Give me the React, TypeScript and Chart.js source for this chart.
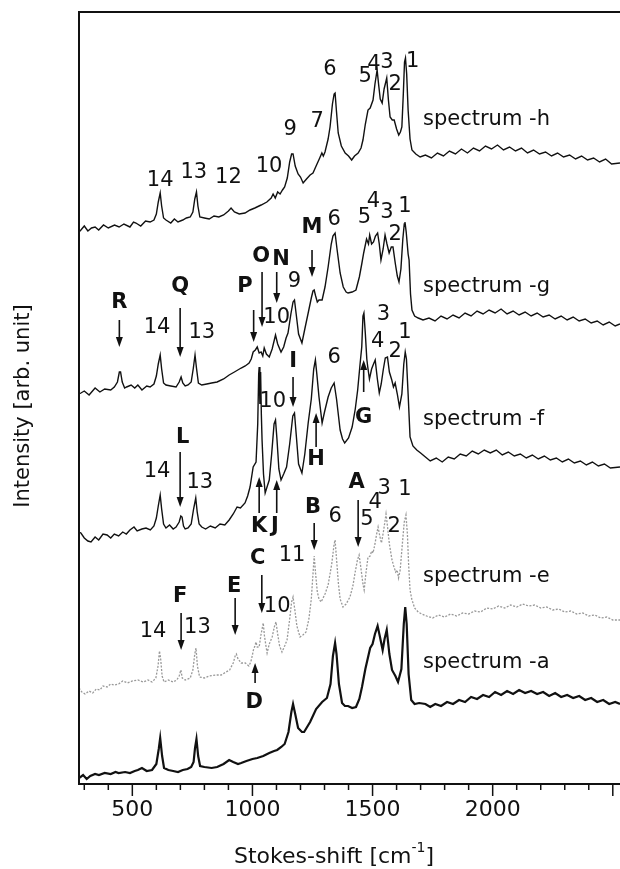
import React, { useEffect, useRef } from "react";
import { Chart, registerables } from "chart.js";

Chart.register(...registerables);

const X_MIN = 278;
const X_MAX = 2530;
const Y_MIN = 0;
const Y_MAX = 772;

const xTickValues = [500, 1000, 1500, 2000];
const minorTickValues = [300, 400, 500, 600, 700, 800, 900, 1000, 1100, 1200, 1300, 1400, 1500, 1600, 1700, 1800, 1900, 2000, 2100, 2200, 2300, 2400, 2500];

// Stokes-shift [cm-1], intensity [arb. unit] (offset spectra)
const spectrumA: [number, number][] = [
  [278,6],[295,9],[310,5],[325,8],[345,10],[361,9],[385,11],[410,10],[430,12],[443,11],[470,12],[490,11],[510,13],[523,14],[540,16],[560,13],[582,14],[600,20],[610,35],[616,46],[624,28],[632,16],[650,14],[670,13],[690,12],[710,14],[730,15],[745,17],[755,22],[761,36],[767,45],[774,28],[782,18],[800,17],[830,16],[853,17],[880,20],[903,24],[920,22],[940,20],[953,21],[975,23],[1000,25],[1020,26],[1045,28],[1070,31],[1090,33],[1103,34],[1120,37],[1134,40],[1150,52],[1162,72],[1169,80],[1178,70],[1190,56],[1206,52],[1215,52],[1240,62],[1265,75],[1290,82],[1310,86],[1325,100],[1335,128],[1344,141],[1350,130],[1360,100],[1373,81],[1385,78],[1398,78],[1415,76],[1431,77],[1445,85],[1456,97],[1470,115],[1490,136],[1500,140],[1510,150],[1521,158],[1530,148],[1542,134],[1550,145],[1559,154],[1570,130],[1581,114],[1595,108],[1606,102],[1620,115],[1630,160],[1636,177],[1642,160],[1650,110],[1661,84],[1675,80],[1694,81],
  [1720,80],[1740,77],[1761,80],[1785,78],[1810,82],[1835,80],[1860,84],[1885,82],[1910,87],[1935,85],[1960,89],[1985,87],[2010,92],[2035,89],[2060,93],[2085,90],[2110,94],[2135,91],[2160,93],[2185,90],[2210,92],[2235,88],[2260,91],[2285,87],[2310,89],[2335,86],[2360,88],[2385,84],[2410,86],[2435,82],[2460,84],[2485,80],[2510,82],[2530,80]
];

const spectrumE: [number, number][] = [
  [278,96],[290,92],[303,90],[320,93],[335,91],[350,95],[365,94],[378,98],[395,97],[410,100],[425,99],[443,100],[460,103],[480,101],[500,103],[523,104],[545,102],[565,104],[582,102],[598,106],[607,118],[613,133],[618,125],[624,108],[632,102],[650,104],[670,102],[685,104],[695,108],[702,114],[708,106],[720,104],[741,106],[752,114],[760,130],[765,136],[771,118],[780,107],[800,106],[820,108],[850,109],[870,109],[890,112],[905,114],[920,121],[928,128],[933,130],[940,125],[953,121],[970,121],[985,118],[993,122],[999,128],[1004,134],[1010,138],[1015,142],[1020,137],[1028,137],[1036,150],[1041,156],[1045,161],[1050,148],[1055,140],[1061,131],[1070,140],[1082,147],[1092,158],[1098,162],[1105,150],[1113,138],[1123,132],[1134,138],[1144,144],[1155,165],[1163,182],[1169,187],[1176,175],[1185,158],[1198,147],[1210,149],[1223,152],[1235,165],[1245,185],[1252,210],[1257,228],[1263,210],[1270,192],[1277,185],[1286,182],[1302,190],[1315,199],[1330,220],[1340,240],[1344,244],[1350,225],[1358,200],[1365,185],[1377,177],[1390,180],[1406,187],[1418,198],[1427,211],[1437,224],[1444,229],[1452,215],[1460,200],[1465,194],[1472,210],[1481,227],[1490,228],[1496,233],[1502,231],[1510,240],[1517,250],[1523,257],[1530,248],[1537,241],[1545,252],[1550,260],[1556,270],[1562,258],[1570,240],[1581,224],[1588,218],[1596,212],[1602,214],[1608,206],[1615,214],[1624,240],[1632,262],[1639,269],[1645,250],[1650,220],[1656,194],[1663,185],[1675,176],[1690,172],[1705,170],
  [1725,168],[1750,166],[1775,169],[1800,167],[1825,170],[1850,168],[1875,171],[1900,170],[1925,173],[1950,172],[1975,176],[2000,175],[2025,178],[2050,176],[2075,179],[2100,177],[2125,180],[2150,178],[2175,179],[2200,176],[2225,177],[2250,174],[2275,175],[2300,172],[2325,173],[2350,170],[2375,171],[2400,168],[2425,169],[2450,166],[2475,167],[2500,164],[2530,164]
];

const spectrumF: [number, number][] = [
  [278,252],[286,251],[300,246],[315,243],[328,242],[345,247],[360,244],[378,250],[395,249],[410,246],[425,250],[443,248],[460,252],[475,250],[490,254],[507,257],[520,253],[540,255],[557,256],[575,254],[590,258],[600,266],[608,278],[616,289],[622,275],[630,260],[640,256],[655,259],[670,255],[682,257],[695,262],[702,268],[707,267],[713,258],[720,255],[732,256],[745,260],[755,275],[764,286],[770,272],[778,260],[789,257],[805,255],[825,258],[845,256],[865,260],[885,259],[903,264],[920,270],[936,277],[950,276],[969,281],[980,288],[990,297],[1003,317],[1015,322],[1022,360],[1026,410],[1028,417],[1031,380],[1034,412],[1037,370],[1040,344],[1046,310],[1053,291],[1062,298],[1070,304],[1080,330],[1090,360],[1096,364],[1102,345],[1110,315],[1119,304],[1130,310],[1142,317],[1155,340],[1168,368],[1175,371],[1182,350],[1192,320],[1206,311],[1218,330],[1232,361],[1245,385],[1255,415],[1262,424],[1268,410],[1277,387],[1290,361],[1300,372],[1315,387],[1328,396],[1340,401],[1350,385],[1365,354],[1375,345],[1384,341],[1400,346],[1415,357],[1428,375],[1438,394],[1448,420],[1455,437],[1460,468],[1464,471],[1470,450],[1476,425],[1480,417],[1487,405],[1496,415],[1504,420],[1511,424],[1520,405],[1528,391],[1536,400],[1545,415],[1553,426],[1562,427],[1570,412],[1580,404],[1587,397],[1594,401],[1603,390],[1612,377],[1622,390],[1630,420],[1636,432],[1641,425],[1648,390],[1656,347],[1668,338],[1684,334],[1700,331],
  [1715,328],[1740,323],[1765,326],[1790,322],[1815,327],[1840,325],[1865,330],[1890,328],[1915,333],[1940,330],[1965,334],[1990,331],[2015,334],[2040,329],[2065,332],[2090,328],[2115,330],[2140,326],[2165,329],[2190,325],[2215,328],[2240,324],[2265,326],[2290,322],[2315,325],[2340,321],[2365,323],[2390,319],[2415,322],[2440,318],[2465,320],[2490,316],[2530,317]
];

const spectrumG: [number, number][] = [
  [278,390],[286,391],[300,393],[320,389],[345,396],[365,392],[385,395],[410,394],[425,397],[438,402],[446,412],[451,412],[458,402],[468,396],[476,397],[495,399],[510,396],[523,399],[540,394],[560,398],[574,397],[590,400],[600,408],[608,420],[616,429],[622,415],[630,401],[640,399],[660,398],[682,397],[695,402],[703,407],[710,401],[720,398],[732,399],[745,402],[754,416],[761,429],[767,416],[775,401],[789,399],[810,400],[830,401],[853,402],[880,405],[903,409],[925,412],[953,416],[970,418],[986,421],[995,425],[1003,432],[1012,434],[1020,437],[1028,431],[1036,432],[1043,428],[1049,436],[1058,430],[1070,427],[1082,435],[1096,449],[1105,440],[1119,432],[1130,437],[1140,446],[1148,451],[1160,470],[1169,482],[1175,484],[1182,470],[1192,450],[1206,441],[1218,455],[1232,471],[1245,486],[1252,493],[1257,494],[1263,488],[1270,482],[1277,484],[1290,484],[1302,497],[1315,517],[1328,540],[1335,548],[1344,551],[1352,535],[1365,511],[1378,497],[1390,492],[1398,491],[1415,492],[1431,494],[1445,507],[1455,520],[1463,531],[1475,545],[1483,540],[1488,549],[1496,540],[1504,542],[1512,548],[1521,551],[1528,540],[1535,524],[1544,535],[1552,549],[1560,540],[1569,531],[1578,537],[1585,537],[1595,520],[1603,508],[1610,502],[1618,515],[1626,545],[1632,560],[1635,562],[1640,552],[1648,530],[1652,524],[1658,490],[1664,474],[1675,468],[1690,466],[1710,464],
  [1735,466],[1760,463],[1785,468],[1810,465],[1835,469],[1860,466],[1885,471],[1910,468],[1935,473],[1960,470],[1985,474],[2010,471],[2035,475],[2060,470],[2085,473],[2110,469],[2135,472],[2160,468],[2185,471],[2210,467],[2235,469],[2260,465],[2285,468],[2310,464],[2335,467],[2360,463],[2385,465],[2410,461],[2435,463],[2460,459],[2485,462],[2510,458],[2530,460]
];

const spectrumH: [number, number][] = [
  [278,552],[286,554],[300,558],[315,553],[330,556],[345,557],[360,554],[380,559],[400,556],[426,559],[445,557],[465,560],[490,557],[505,562],[515,561],[535,558],[555,563],[574,562],[590,564],[600,570],[608,582],[616,591],[622,578],[630,566],[640,564],[660,561],[675,565],[690,562],[710,564],[725,566],[741,567],[752,572],[760,585],[767,592],[773,578],[781,567],[800,566],[820,565],[840,568],[860,567],[880,569],[900,573],[911,576],[925,572],[945,570],[969,571],[990,574],[1010,576],[1036,579],[1060,582],[1078,586],[1086,590],[1095,586],[1105,592],[1115,590],[1125,594],[1134,597],[1145,606],[1155,622],[1163,630],[1169,630],[1178,618],[1190,610],[1200,607],[1211,601],[1225,605],[1240,609],[1252,611],[1265,618],[1280,626],[1289,631],[1295,628],[1302,632],[1315,645],[1323,657],[1333,680],[1340,690],[1344,691],[1350,672],[1357,651],[1370,638],[1386,631],[1400,628],[1413,624],[1425,628],[1440,631],[1452,636],[1460,644],[1470,660],[1481,674],[1490,676],[1502,684],[1510,700],[1519,714],[1525,700],[1532,685],[1540,681],[1548,695],[1559,706],[1566,684],[1573,667],[1582,664],[1590,664],[1600,655],[1609,649],[1616,652],[1622,657],[1628,690],[1633,722],[1637,726],[1642,710],[1648,674],[1656,645],[1664,634],[1680,630],[1698,627],
  [1720,629],[1745,626],[1770,631],[1795,628],[1820,633],[1845,630],[1870,635],[1895,631],[1920,636],[1945,633],[1970,638],[1995,635],[2020,639],[2045,634],[2070,637],[2095,633],[2120,636],[2145,631],[2170,634],[2195,630],[2220,632],[2245,628],[2270,631],[2295,627],[2320,629],[2345,625],[2370,628],[2395,624],[2420,626],[2445,622],[2470,625],[2495,620],[2530,621]
];

// peak labels: [text, x (cm-1), y (arb.), bold]
const labelsH: [string, number, number, boolean][] = [
  ["14", 616, 603, false], ["13", 756, 611, false], ["12", 900, 606, false], ["10", 1069, 617, false],
  ["9", 1157, 654, false], ["7", 1269, 662, false], ["6", 1323, 714, false], ["5", 1469, 707, false],
  ["4", 1506, 719, false], ["3", 1560, 721, false], ["2", 1594, 699, false], ["1", 1667, 722, false]
];
const labelsG: [string, number, number, boolean][] = [
  ["6", 1340, 564, false], ["5", 1466, 566, false], ["4", 1504, 582, false], ["3", 1560, 571, false],
  ["2", 1594, 549, false], ["1", 1635, 577, false], ["M", 1248, 556, true], ["O", 1036, 527, true],
  ["N", 1119, 524, true], ["9", 1175, 502, false], ["P", 969, 497, true], ["10", 1101, 466, false],
  ["Q", 699, 497, true], ["R", 446, 481, true], ["14", 603, 456, false], ["13", 789, 451, false]
];
const labelsF: [string, number, number, boolean][] = [
  ["3", 1545, 469, false], ["4", 1521, 442, false], ["2", 1594, 432, false], ["1", 1635, 451, false],
  ["6", 1340, 426, false], ["I", 1169, 422, true], ["10", 1084, 382, false], ["G", 1463, 366, true],
  ["H", 1265, 324, true], ["L", 710, 346, true], ["14", 603, 312, false], ["13", 781, 301, false],
  ["K", 1028, 257, true], ["J", 1093, 257, true]
];
const labelsE: [string, number, number, boolean][] = [
  ["A", 1434, 301, true], ["3", 1548, 295, false], ["4", 1511, 281, false], ["1", 1635, 294, false],
  ["5", 1477, 264, false], ["2", 1590, 257, false], ["B", 1252, 276, true], ["6", 1344, 267, false],
  ["11", 1165, 228, false], ["C", 1022, 225, true], ["10", 1103, 177, false], ["E", 924, 197, true],
  ["D", 1007, 81, true], ["F", 699, 187, true], ["14", 586, 152, false], ["13", 771, 156, false]
];

// spectrum names: [text, x, y]
const spectrumNames: [string, number, number][] = [
  ["spectrum -h", 1710, 664], ["spectrum -g", 1710, 497], ["spectrum -f", 1710, 364],
  ["spectrum -e", 1710, 207], ["spectrum -a", 1710, 121]
];

// arrows: [x, yTail, yHead]
const arrows: [number, number, number][] = [
  [1248, 534, 507], [1040, 512, 457], [1101, 512, 481], [1005, 474, 442], [699, 476, 427], [446, 464, 437],
  [1169, 407, 377], [1463, 392, 424], [1265, 337, 371], [699, 332, 277], [1028, 271, 307], [1101, 271, 304],
  [1440, 284, 237], [1257, 261, 234], [1039, 209, 171], [928, 186, 149], [1011, 101, 121], [703, 171, 134]
];

const FONT = '"DejaVu Sans", "Liberation Sans", Arial, sans-serif';

const overlayPlugin = {
  id: "overlay",
  afterDraw(chart: any) {
    const { ctx, chartArea: ca } = chart;
    const xs = chart.scales.x;
    const ys = chart.scales.y;
    ctx.save();
    ctx.strokeStyle = "#111";
    ctx.fillStyle = "#111";
    ctx.lineWidth = 2;
    ctx.beginPath();
    ctx.moveTo(ca.right + 2, ca.top);
    ctx.lineTo(ca.left, ca.top);
    ctx.lineTo(ca.left, ca.bottom);
    ctx.lineTo(ca.right + 2, ca.bottom);
    ctx.stroke();

    ctx.lineWidth = 1.5;
    minorTickValues.forEach((v) => {
      const px = xs.getPixelForValue(v);
      if (px < ca.left || px > ca.right) return;
      const len = v % 500 === 0 ? 12 : 6;
      ctx.beginPath();
      ctx.moveTo(px, ca.bottom);
      ctx.lineTo(px, ca.bottom + len);
      ctx.stroke();
    });

    ctx.textAlign = "center";
    ctx.textBaseline = "middle";
    [labelsH, labelsG, labelsF, labelsE].forEach((arr) => {
      arr.forEach(([t, xv, yv, bold]) => {
        ctx.font = `${bold ? "bold " : ""}21px ${FONT}`;
        ctx.fillText(t, xs.getPixelForValue(xv), ys.getPixelForValue(yv));
      });
    });

    ctx.textAlign = "left";
    ctx.font = `21px ${FONT}`;
    spectrumNames.forEach(([t, xv, yv]) => {
      ctx.fillText(t, xs.getPixelForValue(xv), ys.getPixelForValue(yv));
    });

    ctx.lineWidth = 1.6;
    arrows.forEach(([xv, yt, yh]) => {
      const px = xs.getPixelForValue(xv);
      const pt = ys.getPixelForValue(yt);
      const ph = ys.getPixelForValue(yh);
      const dir = ph > pt ? 1 : -1;
      ctx.beginPath();
      ctx.moveTo(px, pt);
      ctx.lineTo(px, ph - dir * 6);
      ctx.stroke();
      ctx.beginPath();
      ctx.moveTo(px, ph);
      ctx.lineTo(px - 3.5, ph - dir * 10);
      ctx.lineTo(px + 3.5, ph - dir * 10);
      ctx.closePath();
      ctx.fill();
    });

    // y-axis title
    ctx.save();
    ctx.translate(24, (ca.top + ca.bottom) / 2 + 8);
    ctx.rotate(-Math.PI / 2);
    ctx.textAlign = "center";
    ctx.font = `21px ${FONT}`;
    ctx.fillText("Intensity [arb. unit]", 0, 0);
    ctx.restore();

    // x-axis title with superscript
    const base = "Stokes-shift [cm";
    const sup = "-1";
    const end = "]";
    ctx.font = `22px ${FONT}`;
    const w1 = ctx.measureText(base).width;
    const w3 = ctx.measureText(end).width;
    ctx.font = `14px ${FONT}`;
    const w2 = ctx.measureText(sup).width;
    const total = w1 + w2 + w3;
    let sx = 334 - total / 2;
    const ty = 857;
    ctx.textAlign = "left";
    ctx.font = `22px ${FONT}`;
    ctx.fillText(base, sx, ty);
    sx += w1;
    ctx.font = `14px ${FONT}`;
    ctx.fillText(sup, sx, ty - 9);
    sx += w2;
    ctx.font = `22px ${FONT}`;
    ctx.fillText(end, sx, ty);
    ctx.restore();
  },
};

function toPoints(arr: [number, number][]) {
  return arr.map(([x, y]) => ({ x, y }));
}

export default function App() {
  const ref = useRef<HTMLCanvasElement | null>(null);
  useEffect(() => {
    if (!ref.current) return;
    const mk = (data: [number, number][], color: string, width: number, dash: number[] = []) => ({
      data: toPoints(data),
      borderColor: color,
      borderWidth: width,
      borderDash: dash,
      pointRadius: 0,
      tension: 0,
      fill: false,
    });
    const chart = new Chart(ref.current, {
      type: "line",
      data: {
        datasets: [
          mk(spectrumA, "#111", 2.2),
          mk(spectrumE, "#999", 1.3, [2, 1.5]),
          mk(spectrumF, "#111", 1.4),
          mk(spectrumG, "#111", 1.4),
          mk(spectrumH, "#111", 1.4),
        ],
      },
      options: {
        animation: false,
        responsive: false,
        maintainAspectRatio: false,
        layout: { padding: { top: 12, left: 0, right: 0, bottom: 0 } },
        plugins: { legend: { display: false }, tooltip: { enabled: false } },
        scales: {
          x: {
            type: "linear",
            min: X_MIN,
            max: X_MAX,
            afterFit: (s: any) => { s.height = 85; },
            afterBuildTicks: (s: any) => { s.ticks = xTickValues.map((v) => ({ value: v })); },
            grid: { display: false, drawTicks: false },
            border: { display: false },
            ticks: {
              font: { family: FONT, size: 22 },
              color: "#111",
              padding: 13,
              maxRotation: 0,
              autoSkip: false,
              callback: (v: any) => String(v),
            },
          },
          y: {
            type: "linear",
            min: Y_MIN,
            max: Y_MAX,
            afterFit: (s: any) => { s.width = 79; },
            ticks: { display: false },
            grid: { display: false },
            border: { display: false },
          },
        },
      },
      plugins: [overlayPlugin],
    });
    return () => chart.destroy();
  }, []);
  return (
    <div style={{ position: "absolute", left: 0, top: 0, width: 620, height: 869, background: "#fff" }}>
      <canvas ref={ref} width={620} height={869} style={{ display: "block" }} />
    </div>
  );
}
